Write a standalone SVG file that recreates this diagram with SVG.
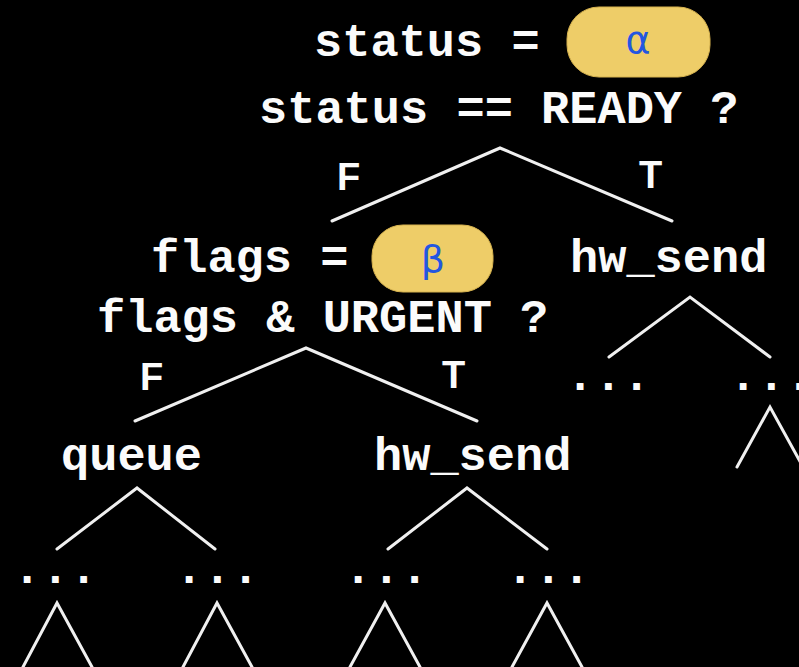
<svg xmlns="http://www.w3.org/2000/svg" width="799" height="667" viewBox="0 0 799 667">
<style>
.code{font-family:"Liberation Mono","Courier New",monospace;font-weight:bold;font-size:47px;fill:#fbfbfb}
.lab{font-family:"Liberation Sans",Arial,sans-serif;font-weight:bold;font-size:38px;fill:#fbfbfb}
.greek{font-family:"DejaVu Sans","Noto Sans",sans-serif;font-size:38px;fill:#2356e0;text-anchor:middle}
.pill{fill:#eecd68;stroke:#d6b24f;stroke-width:1}
.edge{fill:none;stroke:#f0f0f0;stroke-width:3;stroke-linecap:round;stroke-linejoin:miter}
</style>
<rect width="799" height="667" fill="#000"/>
<g id="root">
<text class="code" x="314" y="56">status =</text>
<rect class="pill" x="567" y="7" width="143" height="70" rx="32"/>
<text class="greek" x="638" y="53">α</text>
<text class="code" x="259" y="123">status == READY ?</text>
</g>
<g id="flags">
<text class="code" x="151" y="272">flags =</text>
<rect class="pill" x="372" y="225" width="121" height="67" rx="31"/>
<text class="greek" x="433" y="272">β</text>
<text class="code" x="97" y="332">flags &amp; URGENT ?</text>
</g>
<g id="hw_send_right">
<text class="code" x="570" y="272">hw_send</text>
</g>
<g id="queue">
<text class="code" x="61" y="470">queue</text>
</g>
<g id="hw_send_lower">
<text class="code" x="374" y="470">hw_send</text>
</g>
<g id="dots">
<text class="code" x="566" y="390">...</text>
<text class="code" x="729" y="390">...</text>
<text class="code" x="13" y="583">...</text>
<text class="code" x="175" y="583">...</text>
<text class="code" x="344" y="583">...</text>
<text class="code" x="506" y="583">...</text>
</g>
<g id="labels">
<text class="lab" x="337" y="190">F</text>
<text class="lab" x="639" y="188">T</text>
<text class="lab" x="140" y="390">F</text>
<text class="lab" x="442" y="388">T</text>
</g>
<g id="connectors">
<polyline class="edge" points="332,221 500,148 672,221"/>
<polyline class="edge" points="135,421 306,348 477,421"/>
<polyline class="edge" points="609,357 690,297 770,357"/>
<polyline class="edge" points="737,467 770,407 803,467"/>
<polyline class="edge" points="57,549 137,488 215,549"/>
<polyline class="edge" points="388,549 467,488 547,549"/>
<polyline class="edge" points="23,667 57,603 92,667"/>
<polyline class="edge" points="183,667 217,603 252,667"/>
<polyline class="edge" points="350,667 385,603 420,667"/>
<polyline class="edge" points="512,667 547,603 582,667"/>
</g>
</svg>
